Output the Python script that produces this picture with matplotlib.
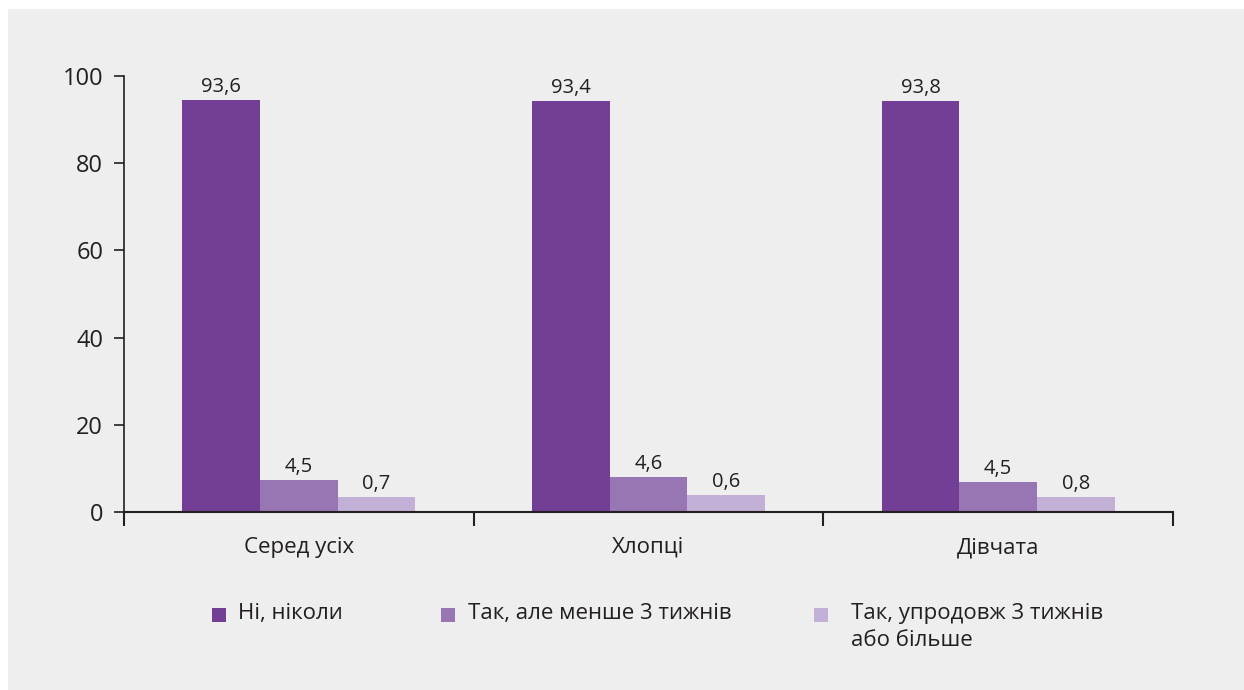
import numpy as np
import matplotlib
matplotlib.use("Agg")
import matplotlib.pyplot as plt
from matplotlib.patches import Rectangle

plt.rcParams['font.family'] = ['Open Sans', 'DejaVu Sans']

categories = ['Серед усіх', 'Хлопці', 'Дівчата']
series_names = ['Ні, ніколи', 'Так, але менше 3 тижнів', 'Так, упродовж 3 тижнів\nабо більше']
# printed values
never = [93.6, 93.4, 93.8]
less3 = [4.5, 4.6, 4.5]
more3 = [0.7, 0.6, 0.8]
# bar heights as drawn in the source picture (not equal to the labels)
never_h = [94.5, 94.3, 94.3]
less3_h = [7.3, 8.0, 6.9]
more3_h = [3.5, 3.9, 3.4]

colors = ['#733e96', '#9776b3', '#c3b0d6']
bg = '#eeeeee'
txt = '#231f20'

fig = plt.figure(figsize=(12.44, 6.9), dpi=100)
fig.patch.set_facecolor('white')
fig.patches.append(Rectangle((8/1244, 0), 1, 1 - 9/690, transform=fig.transFigure,
                             facecolor=bg, edgecolor='none', zorder=-10))

ax = fig.add_axes([124/1244, 1 - 512/690, (1173-124)/1244, (512-76)/690])
ax.set_facecolor(bg)

x = np.arange(len(categories))
w = 0.222
for k, (vals, hs) in enumerate([(never, never_h), (less3, less3_h), (more3, more3_h)]):
    pos = x + (k - 1) * w
    bars = ax.bar(pos, hs, width=w, color=colors[k], linewidth=0)
    for b, v in zip(bars, vals):
        ax.annotate(f'{v:.1f}'.replace('.', ','), (b.get_x() + b.get_width()/2, b.get_height()),
                    xytext=(0, 2), textcoords='offset points', ha='center', va='bottom',
                    fontsize=14.5, color=txt)

ax.set_xlim(-0.5, 2.5)
ax.set_ylim(0, 100)
ax.set_yticks([0, 20, 40, 60, 80, 100])
ax.tick_params(axis='y', length=7, width=1.2, colors='#231f20', labelsize=17, pad=8)
ax.set_xticks([-0.5, 0.5, 1.5, 2.5])
ax.set_xticklabels([])
ax.tick_params(axis='x', which='major', length=10, width=1.5, colors='#231f20', direction='out')
ax.set_xticks(x, minor=True)
ax.set_xticklabels(categories, minor=True, fontsize=16, color=txt)
ax.tick_params(axis='x', which='minor', length=0, pad=18)
for s in ['top', 'right']:
    ax.spines[s].set_visible(False)
ax.spines['left'].set_linewidth(1.2)
ax.spines['bottom'].set_linewidth(1.5)
ax.spines['left'].set_color('#231f20')
ax.spines['bottom'].set_color('#231f20')

# legend
sq_x = [212, 441, 814]
tx_x = [238, 468, 851]
for k in range(3):
    fig.patches.append(Rectangle((sq_x[k]/1244, 1 - 622/690), 14/1244, 14/690,
                                 transform=fig.transFigure, facecolor=colors[k],
                                 edgecolor='none'))
    fig.text(tx_x[k]/1244, 1 - 603/690, series_names[k], ha='left', va='top',
             fontsize=16, color=txt, linespacing=1.4)

fig.savefig('out.png', dpi=100, facecolor=fig.get_facecolor())
